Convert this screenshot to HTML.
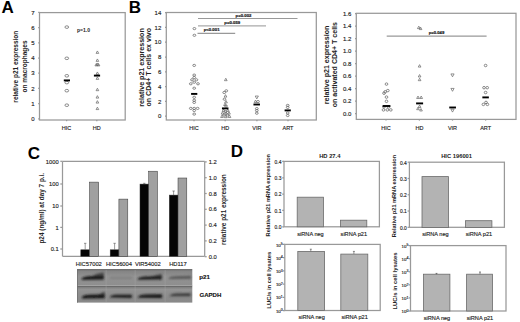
<!DOCTYPE html>
<html><head><meta charset="utf-8"><style>
html,body{margin:0;padding:0;background:#fff;}
svg{display:block;font-family:"Liberation Sans", sans-serif;}
</style></head><body>
<svg width="520" height="322" viewBox="0 0 520 322">
<rect width="520" height="322" fill="#fff"/>
<text x="1.5" y="13" font-size="17" text-anchor="start" font-weight="bold" fill="#000">A</text>
<text x="128.8" y="13" font-size="17" text-anchor="start" font-weight="bold" fill="#000">B</text>
<text x="27.8" y="159" font-size="17" text-anchor="start" font-weight="bold" fill="#000">C</text>
<text x="230.8" y="157.4" font-size="17" text-anchor="start" font-weight="bold" fill="#000">D</text>
<rect x="39.5" y="12.6" width="85.7" height="107.4" fill="none" stroke="#999" stroke-width="1.25"/>
<line x1="38.2" y1="118.8" x2="39.5" y2="118.8" stroke="#999" stroke-width="1.25"/>
<text x="34.6" y="120.89999999999999" font-size="6" text-anchor="end" font-weight="normal" fill="#222" stroke="#222" stroke-width="0.14">0</text>
<line x1="38.2" y1="103.6" x2="39.5" y2="103.6" stroke="#999" stroke-width="1.25"/>
<text x="34.6" y="105.69999999999999" font-size="6" text-anchor="end" font-weight="normal" fill="#222" stroke="#222" stroke-width="0.14">1</text>
<line x1="38.2" y1="88.4" x2="39.5" y2="88.4" stroke="#999" stroke-width="1.25"/>
<text x="34.6" y="90.5" font-size="6" text-anchor="end" font-weight="normal" fill="#222" stroke="#222" stroke-width="0.14">2</text>
<line x1="38.2" y1="73.2" x2="39.5" y2="73.2" stroke="#999" stroke-width="1.25"/>
<text x="34.6" y="75.3" font-size="6" text-anchor="end" font-weight="normal" fill="#222" stroke="#222" stroke-width="0.14">3</text>
<line x1="38.2" y1="58.0" x2="39.5" y2="58.0" stroke="#999" stroke-width="1.25"/>
<text x="34.6" y="60.1" font-size="6" text-anchor="end" font-weight="normal" fill="#222" stroke="#222" stroke-width="0.14">4</text>
<line x1="38.2" y1="42.8" x2="39.5" y2="42.8" stroke="#999" stroke-width="1.25"/>
<text x="34.6" y="44.9" font-size="6" text-anchor="end" font-weight="normal" fill="#222" stroke="#222" stroke-width="0.14">5</text>
<line x1="38.2" y1="27.60000000000001" x2="39.5" y2="27.60000000000001" stroke="#999" stroke-width="1.25"/>
<text x="34.6" y="29.70000000000001" font-size="6" text-anchor="end" font-weight="normal" fill="#222" stroke="#222" stroke-width="0.14">6</text>
<line x1="38.2" y1="12.400000000000006" x2="39.5" y2="12.400000000000006" stroke="#999" stroke-width="1.25"/>
<text x="34.6" y="14.500000000000005" font-size="6" text-anchor="end" font-weight="normal" fill="#222" stroke="#222" stroke-width="0.14">7</text>
<line x1="66.6" y1="120" x2="66.6" y2="121.2" stroke="#999" stroke-width="1.25"/>
<text x="66.6" y="130.4" font-size="5.5" text-anchor="middle" font-weight="normal" fill="#222" stroke="#222" stroke-width="0.14">HIC</text>
<line x1="96.8" y1="120" x2="96.8" y2="121.2" stroke="#999" stroke-width="1.25"/>
<text x="96.8" y="130.4" font-size="5.5" text-anchor="middle" font-weight="normal" fill="#222" stroke="#222" stroke-width="0.14">HD</text>
<text x="17.6" y="66.7" font-size="6.5" text-anchor="middle" font-weight="bold" fill="#222" transform="rotate(-90 17.6 66.7)">relative p21 expression</text>
<text x="26.8" y="66.5" font-size="6.5" text-anchor="middle" font-weight="bold" fill="#222" transform="rotate(-90 26.8 66.5)">on macrophages</text>
<text x="83.5" y="31.9" font-size="5.1" text-anchor="middle" font-weight="bold" fill="#222">p=1.0</text>
<ellipse cx="66.8" cy="27.1" rx="1.85" ry="1.3" fill="none" stroke="#666" stroke-width="0.75"/>
<ellipse cx="66.8" cy="58.3" rx="1.85" ry="1.3" fill="none" stroke="#666" stroke-width="0.75"/>
<ellipse cx="66.8" cy="75.8" rx="1.85" ry="1.3" fill="none" stroke="#666" stroke-width="0.75"/>
<ellipse cx="66.8" cy="82.6" rx="1.85" ry="1.3" fill="none" stroke="#666" stroke-width="0.75"/>
<ellipse cx="66.8" cy="90.7" rx="1.85" ry="1.3" fill="none" stroke="#666" stroke-width="0.75"/>
<ellipse cx="66.8" cy="105.2" rx="1.85" ry="1.3" fill="none" stroke="#666" stroke-width="0.75"/>
<rect x="63.800000000000004" y="79.45" width="6.2" height="1.9" fill="#000"/>
<path d="M97.4 50.949999999999996 L98.75 53.379999999999995 L96.05000000000001 53.379999999999995 Z" fill="none" stroke="#666" stroke-width="0.7"/>
<path d="M97.4 58.949999999999996 L98.75 61.379999999999995 L96.05000000000001 61.379999999999995 Z" fill="none" stroke="#666" stroke-width="0.7"/>
<path d="M97.4 62.949999999999996 L98.75 65.38 L96.05000000000001 65.38 Z" fill="none" stroke="#666" stroke-width="0.7"/>
<path d="M97.4 71.95 L98.75 74.38 L96.05000000000001 74.38 Z" fill="none" stroke="#666" stroke-width="0.7"/>
<path d="M97.4 76.95 L98.75 79.38 L96.05000000000001 79.38 Z" fill="none" stroke="#666" stroke-width="0.7"/>
<path d="M97.4 88.25 L98.75 90.67999999999999 L96.05000000000001 90.67999999999999 Z" fill="none" stroke="#666" stroke-width="0.7"/>
<path d="M97.4 95.65 L98.75 98.08 L96.05000000000001 98.08 Z" fill="none" stroke="#666" stroke-width="0.7"/>
<path d="M97.4 100.65 L98.75 103.08 L96.05000000000001 103.08 Z" fill="none" stroke="#666" stroke-width="0.7"/>
<path d="M97.4 107.15 L98.75 109.58 L96.05000000000001 109.58 Z" fill="none" stroke="#666" stroke-width="0.7"/>
<path d="M96.3 63.449999999999996 L97.64999999999999 65.88 L94.95 65.88 Z" fill="none" stroke="#666" stroke-width="0.7"/>
<path d="M98.5 63.449999999999996 L99.85 65.88 L97.15 65.88 Z" fill="none" stroke="#666" stroke-width="0.7"/>
<rect x="93.9" y="74.64999999999999" width="6.2" height="1.9" fill="#000"/>
<rect x="166.3" y="12.5" width="150.0" height="107.5" fill="none" stroke="#999" stroke-width="1.25"/>
<line x1="165" y1="116.2" x2="166.3" y2="116.2" stroke="#999" stroke-width="1.25"/>
<text x="161.3" y="118.3" font-size="6" text-anchor="end" font-weight="normal" fill="#222" stroke="#222" stroke-width="0.14">0</text>
<line x1="165" y1="101.4" x2="166.3" y2="101.4" stroke="#999" stroke-width="1.25"/>
<text x="161.3" y="103.5" font-size="6" text-anchor="end" font-weight="normal" fill="#222" stroke="#222" stroke-width="0.14">2</text>
<line x1="165" y1="86.6" x2="166.3" y2="86.6" stroke="#999" stroke-width="1.25"/>
<text x="161.3" y="88.69999999999999" font-size="6" text-anchor="end" font-weight="normal" fill="#222" stroke="#222" stroke-width="0.14">4</text>
<line x1="165" y1="71.8" x2="166.3" y2="71.8" stroke="#999" stroke-width="1.25"/>
<text x="161.3" y="73.89999999999999" font-size="6" text-anchor="end" font-weight="normal" fill="#222" stroke="#222" stroke-width="0.14">6</text>
<line x1="165" y1="57.0" x2="166.3" y2="57.0" stroke="#999" stroke-width="1.25"/>
<text x="161.3" y="59.1" font-size="6" text-anchor="end" font-weight="normal" fill="#222" stroke="#222" stroke-width="0.14">8</text>
<line x1="165" y1="42.2" x2="166.3" y2="42.2" stroke="#999" stroke-width="1.25"/>
<text x="161.3" y="44.300000000000004" font-size="6" text-anchor="end" font-weight="normal" fill="#222" stroke="#222" stroke-width="0.14">10</text>
<line x1="165" y1="27.39999999999999" x2="166.3" y2="27.39999999999999" stroke="#999" stroke-width="1.25"/>
<text x="161.3" y="29.499999999999993" font-size="6" text-anchor="end" font-weight="normal" fill="#222" stroke="#222" stroke-width="0.14">12</text>
<line x1="165" y1="12.599999999999994" x2="166.3" y2="12.599999999999994" stroke="#999" stroke-width="1.25"/>
<text x="161.3" y="14.699999999999994" font-size="6" text-anchor="end" font-weight="normal" fill="#222" stroke="#222" stroke-width="0.14">14</text>
<line x1="194" y1="120" x2="194" y2="121.2" stroke="#999" stroke-width="1.25"/>
<text x="194" y="130.4" font-size="5.5" text-anchor="middle" font-weight="normal" fill="#222" stroke="#222" stroke-width="0.14">HIC</text>
<line x1="225.2" y1="120" x2="225.2" y2="121.2" stroke="#999" stroke-width="1.25"/>
<text x="225.2" y="130.4" font-size="5.5" text-anchor="middle" font-weight="normal" fill="#222" stroke="#222" stroke-width="0.14">HD</text>
<line x1="256.9" y1="120" x2="256.9" y2="121.2" stroke="#999" stroke-width="1.25"/>
<text x="256.9" y="130.4" font-size="5.5" text-anchor="middle" font-weight="normal" fill="#222" stroke="#222" stroke-width="0.14">VIR</text>
<line x1="288" y1="120" x2="288" y2="121.2" stroke="#999" stroke-width="1.25"/>
<text x="288" y="130.4" font-size="5.5" text-anchor="middle" font-weight="normal" fill="#222" stroke="#222" stroke-width="0.14">ART</text>
<text x="144.3" y="67.5" font-size="7.1" text-anchor="middle" font-weight="bold" fill="#222" transform="rotate(-90 144.3 67.5)">relative p21 expression</text>
<text x="151.5" y="67.2" font-size="7.05" text-anchor="middle" font-weight="bold" fill="#222" transform="rotate(-90 151.5 67.2)">on CD4+ T cells ex vivo</text>
<line x1="198" y1="18.5" x2="297.5" y2="18.5" stroke="#999" stroke-width="1.2"/>
<line x1="198" y1="25.8" x2="266" y2="25.8" stroke="#aaa" stroke-width="1.2"/>
<line x1="197.5" y1="33.3" x2="235.2" y2="33.3" stroke="#999" stroke-width="1.2"/>
<text x="243.5" y="16.7" font-size="4.3" text-anchor="middle" font-weight="bold" fill="#222" stroke="#222" stroke-width="0.2">p=0.002</text>
<text x="232.3" y="24.4" font-size="4.3" text-anchor="middle" font-weight="bold" fill="#222" stroke="#222" stroke-width="0.2">p=0.059</text>
<text x="211.6" y="31.3" font-size="4.3" text-anchor="middle" font-weight="bold" fill="#222" stroke="#222" stroke-width="0.2">p&lt;0.001</text>
<ellipse cx="194.4" cy="28.6" rx="1.4" ry="1.1" fill="none" stroke="#666" stroke-width="0.75"/>
<ellipse cx="194.4" cy="35.3" rx="1.4" ry="1.1" fill="none" stroke="#666" stroke-width="0.75"/>
<ellipse cx="194.2" cy="65.4" rx="1.4" ry="1.1" fill="none" stroke="#666" stroke-width="0.75"/>
<ellipse cx="194.2" cy="75.1" rx="1.4" ry="1.1" fill="none" stroke="#666" stroke-width="0.75"/>
<ellipse cx="194.2" cy="77.5" rx="1.4" ry="1.1" fill="none" stroke="#666" stroke-width="0.75"/>
<ellipse cx="192" cy="79.8" rx="1.4" ry="1.1" fill="none" stroke="#666" stroke-width="0.75"/>
<ellipse cx="196.4" cy="79.8" rx="1.4" ry="1.1" fill="none" stroke="#666" stroke-width="0.75"/>
<ellipse cx="194.2" cy="82.2" rx="1.4" ry="1.1" fill="none" stroke="#666" stroke-width="0.75"/>
<ellipse cx="190.8" cy="83.8" rx="1.4" ry="1.1" fill="none" stroke="#666" stroke-width="0.75"/>
<ellipse cx="198" cy="83.8" rx="1.4" ry="1.1" fill="none" stroke="#666" stroke-width="0.75"/>
<ellipse cx="194.2" cy="88.2" rx="1.4" ry="1.1" fill="none" stroke="#666" stroke-width="0.75"/>
<ellipse cx="194.2" cy="97.3" rx="1.4" ry="1.1" fill="none" stroke="#666" stroke-width="0.75"/>
<ellipse cx="194.2" cy="100.3" rx="1.4" ry="1.1" fill="none" stroke="#666" stroke-width="0.75"/>
<ellipse cx="194.2" cy="102.4" rx="1.4" ry="1.1" fill="none" stroke="#666" stroke-width="0.75"/>
<ellipse cx="190.8" cy="108.4" rx="1.4" ry="1.1" fill="none" stroke="#666" stroke-width="0.75"/>
<ellipse cx="194.2" cy="108.4" rx="1.4" ry="1.1" fill="none" stroke="#666" stroke-width="0.75"/>
<ellipse cx="197.6" cy="108.4" rx="1.4" ry="1.1" fill="none" stroke="#666" stroke-width="0.75"/>
<ellipse cx="194.2" cy="110.5" rx="1.4" ry="1.1" fill="none" stroke="#666" stroke-width="0.75"/>
<ellipse cx="194.2" cy="114.1" rx="1.4" ry="1.1" fill="none" stroke="#666" stroke-width="0.75"/>
<rect x="191.1" y="92.95" width="6.2" height="1.9" fill="#000"/>
<path d="M225.8 78.25 L227.15 80.67999999999999 L224.45000000000002 80.67999999999999 Z" fill="none" stroke="#666" stroke-width="0.7"/>
<ellipse cx="226.3" cy="90.8" rx="1.4" ry="1.1" fill="none" stroke="#666" stroke-width="0.75"/>
<ellipse cx="224.2" cy="92.5" rx="1.4" ry="1.1" fill="none" stroke="#666" stroke-width="0.75"/>
<ellipse cx="224.5" cy="99.2" rx="1.4" ry="1.1" fill="none" stroke="#666" stroke-width="0.75"/>
<ellipse cx="226" cy="106" rx="1.4" ry="1.1" fill="none" stroke="#666" stroke-width="0.75"/>
<ellipse cx="225.5" cy="111.6" rx="1.4" ry="1.1" fill="none" stroke="#666" stroke-width="0.75"/>
<ellipse cx="224" cy="115" rx="1.4" ry="1.1" fill="none" stroke="#666" stroke-width="0.75"/>
<ellipse cx="227.5" cy="115" rx="1.4" ry="1.1" fill="none" stroke="#666" stroke-width="0.75"/>
<path d="M225.5 94.65 L226.85 97.08 L224.15 97.08 Z" fill="none" stroke="#666" stroke-width="0.7"/>
<path d="M226 100.45 L227.35 102.88 L224.65 102.88 Z" fill="none" stroke="#666" stroke-width="0.7"/>
<path d="M225 103.15 L226.35 105.58 L223.65 105.58 Z" fill="none" stroke="#666" stroke-width="0.7"/>
<path d="M223.5 108.95 L224.85 111.38 L222.15 111.38 Z" fill="none" stroke="#666" stroke-width="0.7"/>
<path d="M227.8 108.95 L229.15 111.38 L226.45000000000002 111.38 Z" fill="none" stroke="#666" stroke-width="0.7"/>
<path d="M222.5 111.65 L223.85 114.08 L221.15 114.08 Z" fill="none" stroke="#666" stroke-width="0.7"/>
<path d="M226 111.65 L227.35 114.08 L224.65 114.08 Z" fill="none" stroke="#666" stroke-width="0.7"/>
<path d="M229 111.65 L230.35 114.08 L227.65 114.08 Z" fill="none" stroke="#666" stroke-width="0.7"/>
<path d="M222 115.05000000000001 L223.35 117.48 L220.65 117.48 Z" fill="none" stroke="#666" stroke-width="0.7"/>
<path d="M229.5 115.05000000000001 L230.85 117.48 L228.15 117.48 Z" fill="none" stroke="#666" stroke-width="0.7"/>
<path d="M225.8 115.25 L227.15 117.67999999999999 L224.45000000000002 117.67999999999999 Z" fill="none" stroke="#666" stroke-width="0.7"/>
<rect x="221.95" y="107.45" width="6.5" height="1.9" fill="#000"/>
<path d="M256.8 98.89999999999999 L258.40000000000003 96.02 L255.20000000000002 96.02 Z" fill="none" stroke="#666" stroke-width="0.7"/>
<path d="M255.5 100.05000000000001 L256.85 102.48 L254.15 102.48 Z" fill="none" stroke="#666" stroke-width="0.7"/>
<ellipse cx="258" cy="101.6" rx="1.4" ry="1.1" fill="none" stroke="#666" stroke-width="0.75"/>
<ellipse cx="256.8" cy="108.6" rx="1.4" ry="1.1" fill="none" stroke="#666" stroke-width="0.75"/>
<ellipse cx="256.8" cy="110.6" rx="1.4" ry="1.1" fill="none" stroke="#666" stroke-width="0.75"/>
<ellipse cx="256.8" cy="113.2" rx="1.4" ry="1.1" fill="none" stroke="#666" stroke-width="0.75"/>
<rect x="253.45" y="103.55" width="6.5" height="1.9" fill="#000"/>
<ellipse cx="287.7" cy="105.4" rx="1.4" ry="1.1" fill="none" stroke="#666" stroke-width="0.75"/>
<ellipse cx="287.7" cy="107.4" rx="1.4" ry="1.1" fill="none" stroke="#666" stroke-width="0.75"/>
<ellipse cx="287.7" cy="113" rx="1.4" ry="1.1" fill="none" stroke="#666" stroke-width="0.75"/>
<ellipse cx="287.7" cy="115.5" rx="1.4" ry="1.1" fill="none" stroke="#666" stroke-width="0.75"/>
<rect x="284.59999999999997" y="109.45" width="6.2" height="1.9" fill="#000"/>
<rect x="356.3" y="13.3" width="159.7" height="106.10000000000001" fill="none" stroke="#999" stroke-width="1.25"/>
<line x1="355" y1="113.5" x2="356.3" y2="113.5" stroke="#999" stroke-width="1.25"/>
<text x="351.3" y="115.6" font-size="6" text-anchor="end" font-weight="normal" fill="#222" stroke="#222" stroke-width="0.14">0.0</text>
<line x1="355" y1="101.0" x2="356.3" y2="101.0" stroke="#999" stroke-width="1.25"/>
<text x="351.3" y="103.1" font-size="6" text-anchor="end" font-weight="normal" fill="#222" stroke="#222" stroke-width="0.14">0.2</text>
<line x1="355" y1="88.5" x2="356.3" y2="88.5" stroke="#999" stroke-width="1.25"/>
<text x="351.3" y="90.6" font-size="6" text-anchor="end" font-weight="normal" fill="#222" stroke="#222" stroke-width="0.14">0.4</text>
<line x1="355" y1="76.0" x2="356.3" y2="76.0" stroke="#999" stroke-width="1.25"/>
<text x="351.3" y="78.1" font-size="6" text-anchor="end" font-weight="normal" fill="#222" stroke="#222" stroke-width="0.14">0.6</text>
<line x1="355" y1="63.5" x2="356.3" y2="63.5" stroke="#999" stroke-width="1.25"/>
<text x="351.3" y="65.6" font-size="6" text-anchor="end" font-weight="normal" fill="#222" stroke="#222" stroke-width="0.14">0.8</text>
<line x1="355" y1="51.0" x2="356.3" y2="51.0" stroke="#999" stroke-width="1.25"/>
<text x="351.3" y="53.1" font-size="6" text-anchor="end" font-weight="normal" fill="#222" stroke="#222" stroke-width="0.14">1.0</text>
<line x1="355" y1="38.499999999999986" x2="356.3" y2="38.499999999999986" stroke="#999" stroke-width="1.25"/>
<text x="351.3" y="40.59999999999999" font-size="6" text-anchor="end" font-weight="normal" fill="#222" stroke="#222" stroke-width="0.14">1.2</text>
<line x1="355" y1="25.999999999999986" x2="356.3" y2="25.999999999999986" stroke="#999" stroke-width="1.25"/>
<text x="351.3" y="28.099999999999987" font-size="6" text-anchor="end" font-weight="normal" fill="#222" stroke="#222" stroke-width="0.14">1.4</text>
<line x1="355" y1="13.5" x2="356.3" y2="13.5" stroke="#999" stroke-width="1.25"/>
<text x="351.3" y="15.6" font-size="6" text-anchor="end" font-weight="normal" fill="#222" stroke="#222" stroke-width="0.14">1.6</text>
<line x1="386" y1="119.4" x2="386" y2="120.60000000000001" stroke="#999" stroke-width="1.25"/>
<text x="386" y="129.6" font-size="5.5" text-anchor="middle" font-weight="normal" fill="#222" stroke="#222" stroke-width="0.14">HIC</text>
<line x1="419.4" y1="119.4" x2="419.4" y2="120.60000000000001" stroke="#999" stroke-width="1.25"/>
<text x="419.4" y="129.6" font-size="5.5" text-anchor="middle" font-weight="normal" fill="#222" stroke="#222" stroke-width="0.14">HD</text>
<line x1="452.5" y1="119.4" x2="452.5" y2="120.60000000000001" stroke="#999" stroke-width="1.25"/>
<text x="452.5" y="129.6" font-size="5.5" text-anchor="middle" font-weight="normal" fill="#222" stroke="#222" stroke-width="0.14">VIR</text>
<line x1="485.6" y1="119.4" x2="485.6" y2="120.60000000000001" stroke="#999" stroke-width="1.25"/>
<text x="485.6" y="129.6" font-size="5.5" text-anchor="middle" font-weight="normal" fill="#222" stroke="#222" stroke-width="0.14">ART</text>
<text x="329.1" y="64.9" font-size="7.1" text-anchor="middle" font-weight="bold" fill="#222" transform="rotate(-90 329.1 64.9)">relative p21 expression</text>
<text x="337.5" y="64.6" font-size="7.05" text-anchor="middle" font-weight="bold" fill="#222" transform="rotate(-90 337.5 64.6)">on activated CD4+ T cells</text>
<line x1="386.7" y1="36.1" x2="486.6" y2="36.1" stroke="#999" stroke-width="1.2"/>
<text x="436.5" y="34.2" font-size="4.2" text-anchor="middle" font-weight="bold" fill="#222" stroke="#222" stroke-width="0.2">p=0.049</text>
<ellipse cx="386.5" cy="84.1" rx="1.35" ry="1.25" fill="none" stroke="#666" stroke-width="0.75"/>
<ellipse cx="387.8" cy="90.6" rx="1.35" ry="1.25" fill="none" stroke="#666" stroke-width="0.75"/>
<ellipse cx="385.2" cy="91.8" rx="1.35" ry="1.25" fill="none" stroke="#666" stroke-width="0.75"/>
<ellipse cx="384" cy="93.2" rx="1.35" ry="1.25" fill="none" stroke="#666" stroke-width="0.75"/>
<ellipse cx="386.5" cy="97.1" rx="1.35" ry="1.25" fill="none" stroke="#666" stroke-width="0.75"/>
<ellipse cx="386.5" cy="101.3" rx="1.35" ry="1.25" fill="none" stroke="#666" stroke-width="0.75"/>
<ellipse cx="384" cy="106.9" rx="1.35" ry="1.25" fill="none" stroke="#666" stroke-width="0.75"/>
<ellipse cx="388.5" cy="106.9" rx="1.35" ry="1.25" fill="none" stroke="#666" stroke-width="0.75"/>
<ellipse cx="383.5" cy="109.9" rx="1.35" ry="1.25" fill="none" stroke="#666" stroke-width="0.75"/>
<ellipse cx="387.3" cy="109.9" rx="1.35" ry="1.25" fill="none" stroke="#666" stroke-width="0.75"/>
<ellipse cx="390.8" cy="109.9" rx="1.35" ry="1.25" fill="none" stroke="#666" stroke-width="0.75"/>
<rect x="382.6" y="105.05" width="7.8" height="1.9" fill="#000"/>
<path d="M418.8 26.15 L420.15000000000003 28.58 L417.45 28.58 Z" fill="none" stroke="#666" stroke-width="0.7"/>
<path d="M420.6 27.15 L421.95000000000005 29.58 L419.25 29.58 Z" fill="none" stroke="#666" stroke-width="0.7"/>
<path d="M419.6 64.65 L420.95000000000005 67.08 L418.25 67.08 Z" fill="none" stroke="#666" stroke-width="0.7"/>
<path d="M419.6 74.55000000000001 L420.95000000000005 76.98 L418.25 76.98 Z" fill="none" stroke="#666" stroke-width="0.7"/>
<path d="M419.6 78.25 L420.95000000000005 80.67999999999999 L418.25 80.67999999999999 Z" fill="none" stroke="#666" stroke-width="0.7"/>
<path d="M418 96.05000000000001 L419.35 98.48 L416.65 98.48 Z" fill="none" stroke="#666" stroke-width="0.7"/>
<path d="M421.2 96.05000000000001 L422.55 98.48 L419.84999999999997 98.48 Z" fill="none" stroke="#666" stroke-width="0.7"/>
<path d="M419.6 105.05000000000001 L420.95000000000005 107.48 L418.25 107.48 Z" fill="none" stroke="#666" stroke-width="0.7"/>
<path d="M418 107.25 L419.35 109.67999999999999 L416.65 109.67999999999999 Z" fill="none" stroke="#666" stroke-width="0.7"/>
<path d="M421 108.55000000000001 L422.35 110.98 L419.65 110.98 Z" fill="none" stroke="#666" stroke-width="0.7"/>
<rect x="416.1" y="102.45" width="7" height="1.9" fill="#000"/>
<path d="M452.5 76.8 L454.1 73.92 L450.9 73.92 Z" fill="none" stroke="#666" stroke-width="0.7"/>
<path d="M452.5 91.3 L454.1 88.42 L450.9 88.42 Z" fill="none" stroke="#666" stroke-width="0.7"/>
<path d="M452.5 112.1 L454.1 109.22 L450.9 109.22 Z" fill="none" stroke="#666" stroke-width="0.7"/>
<rect x="449.25" y="106.55" width="6.7" height="1.9" fill="#000"/>
<ellipse cx="485.6" cy="65.5" rx="1.35" ry="1.25" fill="none" stroke="#666" stroke-width="0.75"/>
<ellipse cx="484" cy="87.7" rx="1.35" ry="1.25" fill="none" stroke="#666" stroke-width="0.75"/>
<ellipse cx="487.2" cy="87.7" rx="1.35" ry="1.25" fill="none" stroke="#666" stroke-width="0.75"/>
<ellipse cx="485.6" cy="92.5" rx="1.35" ry="1.25" fill="none" stroke="#666" stroke-width="0.75"/>
<ellipse cx="486" cy="102.4" rx="1.35" ry="1.25" fill="none" stroke="#666" stroke-width="0.75"/>
<ellipse cx="483.4" cy="104.4" rx="1.35" ry="1.25" fill="none" stroke="#666" stroke-width="0.75"/>
<ellipse cx="487.4" cy="104.4" rx="1.35" ry="1.25" fill="none" stroke="#666" stroke-width="0.75"/>
<rect x="482.35" y="96.45" width="6.5" height="1.9" fill="#000"/>
<line x1="62.5" y1="161.4" x2="204.7" y2="161.4" stroke="#999" stroke-width="1.25"/>
<line x1="62.5" y1="161.4" x2="62.5" y2="256.3" stroke="#999" stroke-width="1.25"/>
<line x1="204.7" y1="161.4" x2="204.7" y2="256.3" stroke="#999" stroke-width="1.25"/>
<line x1="62.5" y1="256.3" x2="204.7" y2="256.3" stroke="#999" stroke-width="1.25"/>
<line x1="60.3" y1="161.3" x2="62.5" y2="161.3" stroke="#999" stroke-width="1.25"/>
<text x="58.7" y="163.5" font-size="5.8" text-anchor="end" font-weight="normal" fill="#222" stroke="#222" stroke-width="0.14">1000</text>
<line x1="60.3" y1="184" x2="62.5" y2="184" stroke="#999" stroke-width="1.25"/>
<text x="58.7" y="186.2" font-size="5.8" text-anchor="end" font-weight="normal" fill="#222" stroke="#222" stroke-width="0.14">100</text>
<line x1="60.3" y1="206" x2="62.5" y2="206" stroke="#999" stroke-width="1.25"/>
<text x="58.7" y="208.2" font-size="5.8" text-anchor="end" font-weight="normal" fill="#222" stroke="#222" stroke-width="0.14">10</text>
<line x1="60.3" y1="227.4" x2="62.5" y2="227.4" stroke="#999" stroke-width="1.25"/>
<text x="58.7" y="229.6" font-size="5.8" text-anchor="end" font-weight="normal" fill="#222" stroke="#222" stroke-width="0.14">1</text>
<line x1="60.3" y1="249" x2="62.5" y2="249" stroke="#999" stroke-width="1.25"/>
<text x="58.7" y="251.2" font-size="5.8" text-anchor="end" font-weight="normal" fill="#222" stroke="#222" stroke-width="0.14">0.1</text>
<line x1="204.7" y1="161.9" x2="206.7" y2="161.9" stroke="#999" stroke-width="1.25"/>
<text x="208.7" y="164.0" font-size="5.8" text-anchor="start" font-weight="normal" fill="#222" stroke="#222" stroke-width="0.14">1.2</text>
<line x1="204.7" y1="177.70000000000002" x2="206.7" y2="177.70000000000002" stroke="#999" stroke-width="1.25"/>
<text x="208.7" y="179.8" font-size="5.8" text-anchor="start" font-weight="normal" fill="#222" stroke="#222" stroke-width="0.14">1.0</text>
<line x1="204.7" y1="193.5" x2="206.7" y2="193.5" stroke="#999" stroke-width="1.25"/>
<text x="208.7" y="195.6" font-size="5.8" text-anchor="start" font-weight="normal" fill="#222" stroke="#222" stroke-width="0.14">0.8</text>
<line x1="204.7" y1="209.3" x2="206.7" y2="209.3" stroke="#999" stroke-width="1.25"/>
<text x="208.7" y="211.4" font-size="5.8" text-anchor="start" font-weight="normal" fill="#222" stroke="#222" stroke-width="0.14">0.6</text>
<line x1="204.7" y1="225.10000000000002" x2="206.7" y2="225.10000000000002" stroke="#999" stroke-width="1.25"/>
<text x="208.7" y="227.20000000000002" font-size="5.8" text-anchor="start" font-weight="normal" fill="#222" stroke="#222" stroke-width="0.14">0.4</text>
<line x1="204.7" y1="240.9" x2="206.7" y2="240.9" stroke="#999" stroke-width="1.25"/>
<text x="208.7" y="243.0" font-size="5.8" text-anchor="start" font-weight="normal" fill="#222" stroke="#222" stroke-width="0.14">0.2</text>
<line x1="204.7" y1="256.70000000000005" x2="206.7" y2="256.70000000000005" stroke="#999" stroke-width="1.25"/>
<text x="208.7" y="258.80000000000007" font-size="5.8" text-anchor="start" font-weight="normal" fill="#222" stroke="#222" stroke-width="0.14">0.0</text>
<text x="44.4" y="208.2" font-size="6.4" text-anchor="middle" font-weight="bold" fill="#222" transform="rotate(-90 44.4 208.2)">p24 (ng/ml) at day 7 p.i.</text>
<text x="226.2" y="209.6" font-size="6.4" text-anchor="middle" font-weight="bold" fill="#222" transform="rotate(-90 226.2 209.6)">relative p21 expression</text>
<rect x="80.8" y="249.8" width="8.700000000000003" height="6.5" fill="#050505" stroke="#333" stroke-width="0.5"/>
<rect x="89.5" y="182.1" width="9.200000000000003" height="74.20000000000002" fill="#a0a0a0" stroke="#333" stroke-width="0.5"/>
<rect x="110.2" y="249.8" width="8.700000000000003" height="6.5" fill="#050505" stroke="#333" stroke-width="0.5"/>
<rect x="118.9" y="199.1" width="8.899999999999991" height="57.20000000000002" fill="#a0a0a0" stroke="#333" stroke-width="0.5"/>
<rect x="140" y="184.1" width="8.699999999999989" height="72.20000000000002" fill="#050505" stroke="#333" stroke-width="0.5"/>
<rect x="148.7" y="171.2" width="8.800000000000011" height="85.10000000000002" fill="#a0a0a0" stroke="#333" stroke-width="0.5"/>
<rect x="169.3" y="195.1" width="8.699999999999989" height="61.20000000000002" fill="#050505" stroke="#333" stroke-width="0.5"/>
<rect x="178" y="178" width="8.800000000000011" height="78.30000000000001" fill="#a0a0a0" stroke="#333" stroke-width="0.5"/>
<line x1="85.2" y1="243.3" x2="85.2" y2="249.8" stroke="#555" stroke-width="0.6"/>
<line x1="84.0" y1="243.3" x2="86.4" y2="243.3" stroke="#555" stroke-width="0.6"/>
<line x1="114.6" y1="243.3" x2="114.6" y2="249.8" stroke="#555" stroke-width="0.6"/>
<line x1="113.39999999999999" y1="243.3" x2="115.8" y2="243.3" stroke="#555" stroke-width="0.6"/>
<line x1="173.6" y1="191" x2="173.6" y2="195.1" stroke="#555" stroke-width="0.6"/>
<line x1="172.4" y1="191" x2="174.79999999999998" y2="191" stroke="#555" stroke-width="0.6"/>
<line x1="144.3" y1="183.3" x2="144.3" y2="184.1" stroke="#555" stroke-width="0.6"/>
<line x1="143.10000000000002" y1="183.3" x2="145.5" y2="183.3" stroke="#555" stroke-width="0.6"/>
<text x="88.8" y="266.3" font-size="5.8" text-anchor="middle" font-weight="normal" fill="#222" stroke="#222" stroke-width="0.14">HIC57002</text>
<text x="119" y="266.3" font-size="5.8" text-anchor="middle" font-weight="normal" fill="#222" stroke="#222" stroke-width="0.14">HIC56004</text>
<text x="147.8" y="266.3" font-size="5.8" text-anchor="middle" font-weight="normal" fill="#222" stroke="#222" stroke-width="0.14">VIR54002</text>
<text x="178" y="266.3" font-size="5.8" text-anchor="middle" font-weight="normal" fill="#222" stroke="#222" stroke-width="0.14">HD117</text>
<defs>
<linearGradient id="bu" x1="0" x2="0" y1="0" y2="1"><stop offset="0" stop-color="#6a6a6a"/><stop offset="0.15" stop-color="#858585"/><stop offset="0.45" stop-color="#929292"/><stop offset="1" stop-color="#8e8e8e"/></linearGradient>
<linearGradient id="bd" x1="0" x2="0" y1="0" y2="1"><stop offset="0" stop-color="#7c7c7c"/><stop offset="0.15" stop-color="#939393"/><stop offset="0.4" stop-color="#8e8e8e"/><stop offset="1" stop-color="#888"/></linearGradient>
<filter id="blur1" x="-20%" y="-80%" width="140%" height="260%"><feGaussianBlur stdDeviation="1.2 1.0"/></filter>
<filter id="blur2" x="-10%" y="-10%" width="120%" height="120%"><feGaussianBlur stdDeviation="0.6"/></filter>
</defs>
<rect x="77" y="269" width="115.3" height="16.5" fill="url(#bu)"/>
<rect x="77" y="285" width="115.3" height="0.9" fill="#a6a6a6"/>
<rect x="77" y="285.9" width="115.3" height="1.1" fill="#6a6a6a"/>
<rect x="77" y="287" width="115.3" height="15.6" fill="url(#bd)"/>
<g filter="url(#blur2)" opacity="0.25">
<rect x="105.5" y="270" width="1.4" height="32" fill="#a8a8a8"/>
<rect x="134.5" y="270" width="1.4" height="32" fill="#a8a8a8"/>
<rect x="164.5" y="270" width="1.4" height="32" fill="#a8a8a8"/>
</g>
<rect x="77" y="269" width="0.8" height="33.6" fill="#707070"/>
<g filter="url(#blur1)">
<path d="M90 277 Q96 273.5 103.5 272.2 L104 277.5 Z" fill="#454545"/>
<path d="M81.5 278.6 Q83 276.6 90 276.3 L103.8 275.8 L103.8 279.6 L82 279.8 Z" fill="#151515"/>
<path d="M150 277 Q156 274.5 161.8 273.8 L162 277.5 Z" fill="#4a4a4a"/>
<path d="M137.5 278.9 Q139 276.6 146 276.5 L161.8 276.1 L161.8 279.5 L138 279.7 Z" fill="#1c1c1c"/>
<path d="M168.5 278.4 Q170 276.3 176 276.2 L191 275.7 L191 278.7 L169 278.9 Z" fill="#565656"/>
<rect x="110" y="276.8" width="22" height="2.2" fill="#808080"/>
<path d="M96 296 Q101 293.5 104.6 291.5 L104.8 296.5 Z" fill="#404040"/>
<path d="M81.8 297.4 Q83 295 90 294.8 L104.6 294.4 L104.6 298.2 L82.2 298.4 Z" fill="#121212"/>
<path d="M109.8 297.6 Q110.5 295 116 294.8 L131.6 294.7 Q132.6 296.2 131.6 297.9 Z" fill="#1c1c1c"/>
<path d="M137.8 297.7 Q139 294.6 146 294.6 L161.8 294.3 Q162.8 296 161.8 297.9 Z" fill="#181818"/>
<path d="M169.5 296.2 Q171 293.6 176 293.5 L190.3 293.3 Q191 294.8 190.3 296.3 Z" fill="#3a3a3a"/>
</g>
<text x="199.3" y="279.2" font-size="5.6" font-weight="bold" fill="#111" stroke="#111" stroke-width="0.12" textLength="10.6" lengthAdjust="spacingAndGlyphs">p21</text>
<text x="199.4" y="297.3" font-size="6.1" text-anchor="start" font-weight="bold" fill="#111" stroke="#111" stroke-width="0.12">GAPDH</text>
<rect x="284.0" y="161.4" width="95.39999999999998" height="65.4" fill="none" stroke="#999" stroke-width="1.25"/>
<line x1="282.2" y1="226.8" x2="284.0" y2="226.8" stroke="#999" stroke-width="1.25"/>
<text x="281.4" y="229.15" font-size="4.9" text-anchor="end" font-weight="normal" fill="#222" stroke="#222" stroke-width="0.14">0.0</text>
<line x1="282.2" y1="210.45000000000002" x2="284.0" y2="210.45000000000002" stroke="#999" stroke-width="1.25"/>
<text x="281.4" y="212.8" font-size="4.9" text-anchor="end" font-weight="normal" fill="#222" stroke="#222" stroke-width="0.14">0.1</text>
<line x1="282.2" y1="194.10000000000002" x2="284.0" y2="194.10000000000002" stroke="#999" stroke-width="1.25"/>
<text x="281.4" y="196.45000000000002" font-size="4.9" text-anchor="end" font-weight="normal" fill="#222" stroke="#222" stroke-width="0.14">0.2</text>
<line x1="282.2" y1="177.75" x2="284.0" y2="177.75" stroke="#999" stroke-width="1.25"/>
<text x="281.4" y="180.1" font-size="4.9" text-anchor="end" font-weight="normal" fill="#222" stroke="#222" stroke-width="0.14">0.3</text>
<line x1="282.2" y1="161.4" x2="284.0" y2="161.4" stroke="#999" stroke-width="1.25"/>
<text x="281.4" y="163.75" font-size="4.9" text-anchor="end" font-weight="normal" fill="#222" stroke="#222" stroke-width="0.14">0.4</text>
<text x="329.8" y="157.9" font-size="5.8" text-anchor="middle" font-weight="bold" fill="#222">HD 27.4</text>
<rect x="297.2" y="197.2" width="26.19999999999999" height="29.600000000000023" fill="#b3b3b3" stroke="#6a6a6a" stroke-width="0.8"/>
<rect x="340.5" y="220.2" width="26.30000000000001" height="6.600000000000023" fill="#b3b3b3" stroke="#6a6a6a" stroke-width="0.8"/>
<text x="310.5" y="235.8" font-size="5.6" text-anchor="middle" font-weight="normal" fill="#222" stroke="#222" stroke-width="0.14">siRNA neg</text>
<text x="353.8" y="235.8" font-size="5.6" text-anchor="middle" font-weight="normal" fill="#222" stroke="#222" stroke-width="0.14">siRNA p21</text>
<rect x="409.4" y="162.2" width="95.0" height="65.10000000000002" fill="none" stroke="#999" stroke-width="1.25"/>
<line x1="407.59999999999997" y1="227.3" x2="409.4" y2="227.3" stroke="#999" stroke-width="1.25"/>
<text x="406.79999999999995" y="229.65" font-size="4.9" text-anchor="end" font-weight="normal" fill="#222" stroke="#222" stroke-width="0.14">0.0</text>
<line x1="407.59999999999997" y1="211.025" x2="409.4" y2="211.025" stroke="#999" stroke-width="1.25"/>
<text x="406.79999999999995" y="213.375" font-size="4.9" text-anchor="end" font-weight="normal" fill="#222" stroke="#222" stroke-width="0.14">0.1</text>
<line x1="407.59999999999997" y1="194.75" x2="409.4" y2="194.75" stroke="#999" stroke-width="1.25"/>
<text x="406.79999999999995" y="197.1" font-size="4.9" text-anchor="end" font-weight="normal" fill="#222" stroke="#222" stroke-width="0.14">0.2</text>
<line x1="407.59999999999997" y1="178.475" x2="409.4" y2="178.475" stroke="#999" stroke-width="1.25"/>
<text x="406.79999999999995" y="180.825" font-size="4.9" text-anchor="end" font-weight="normal" fill="#222" stroke="#222" stroke-width="0.14">0.3</text>
<line x1="407.59999999999997" y1="162.2" x2="409.4" y2="162.2" stroke="#999" stroke-width="1.25"/>
<text x="406.79999999999995" y="164.54999999999998" font-size="4.9" text-anchor="end" font-weight="normal" fill="#222" stroke="#222" stroke-width="0.14">0.4</text>
<text x="456.6" y="157.9" font-size="5.8" text-anchor="middle" font-weight="bold" fill="#222">HIC 196001</text>
<rect x="422" y="176.6" width="26.399999999999977" height="51.0" fill="#b3b3b3" stroke="#6a6a6a" stroke-width="0.8"/>
<rect x="465.5" y="220.7" width="26.399999999999977" height="6.900000000000006" fill="#b3b3b3" stroke="#6a6a6a" stroke-width="0.8"/>
<text x="435.4" y="236.1" font-size="5.6" text-anchor="middle" font-weight="normal" fill="#222" stroke="#222" stroke-width="0.14">siRNA neg</text>
<text x="478.9" y="236.1" font-size="5.6" text-anchor="middle" font-weight="normal" fill="#222" stroke="#222" stroke-width="0.14">siRNA p21</text>
<text x="270.3" y="195.2" font-size="5.62" text-anchor="middle" font-weight="bold" fill="#222" transform="rotate(-90 270.3 195.2)">Relative p21 mRNA expression</text>
<text x="395.6" y="196" font-size="5.62" text-anchor="middle" font-weight="bold" fill="#222" transform="rotate(-90 395.6 196)">Relative p21 mRNA expression</text>
<rect x="284.8" y="244.4" width="95.39999999999998" height="66.1" fill="none" stroke="#999" stroke-width="1.25"/>
<line x1="283.0" y1="310.5" x2="284.8" y2="310.5" stroke="#999" stroke-width="1.25"/>
<text x="282.8" y="312.6" font-size="4.4" text-anchor="end" fill="#222" stroke="#222" stroke-width="0.15">10<tspan dy="-1.4" font-size="3.6">0</tspan></text>
<line x1="283.0" y1="297.28" x2="284.8" y2="297.28" stroke="#999" stroke-width="1.25"/>
<text x="282.8" y="299.38" font-size="4.4" text-anchor="end" fill="#222" stroke="#222" stroke-width="0.15">10<tspan dy="-1.4" font-size="3.6">1</tspan></text>
<line x1="283.0" y1="284.06" x2="284.8" y2="284.06" stroke="#999" stroke-width="1.25"/>
<text x="282.8" y="286.16" font-size="4.4" text-anchor="end" fill="#222" stroke="#222" stroke-width="0.15">10<tspan dy="-1.4" font-size="3.6">2</tspan></text>
<line x1="283.0" y1="270.84000000000003" x2="284.8" y2="270.84000000000003" stroke="#999" stroke-width="1.25"/>
<text x="282.8" y="272.94000000000005" font-size="4.4" text-anchor="end" fill="#222" stroke="#222" stroke-width="0.15">10<tspan dy="-1.4" font-size="3.6">3</tspan></text>
<line x1="283.0" y1="257.62" x2="284.8" y2="257.62" stroke="#999" stroke-width="1.25"/>
<text x="282.8" y="259.72" font-size="4.4" text-anchor="end" fill="#222" stroke="#222" stroke-width="0.15">10<tspan dy="-1.4" font-size="3.6">4</tspan></text>
<line x1="283.0" y1="244.4" x2="284.8" y2="244.4" stroke="#999" stroke-width="1.25"/>
<text x="282.8" y="246.5" font-size="4.4" text-anchor="end" fill="#222" stroke="#222" stroke-width="0.15">10<tspan dy="-1.4" font-size="3.6">5</tspan></text>
<rect x="297.8" y="251.4" width="26.80000000000001" height="59.099999999999994" fill="#b3b3b3" stroke="#6a6a6a" stroke-width="0.8"/>
<rect x="340.8" y="254.1" width="27.0" height="56.400000000000006" fill="#b3b3b3" stroke="#6a6a6a" stroke-width="0.8"/>
<line x1="310.8" y1="249.2" x2="310.8" y2="251.2" stroke="#444" stroke-width="0.6"/>
<line x1="309.8" y1="249.2" x2="311.8" y2="249.2" stroke="#444" stroke-width="0.6"/>
<line x1="353.9" y1="251.4" x2="353.9" y2="253.9" stroke="#444" stroke-width="0.6"/>
<line x1="352.9" y1="251.4" x2="354.9" y2="251.4" stroke="#444" stroke-width="0.6"/>
<text x="311.6" y="319.2" font-size="5.6" text-anchor="middle" font-weight="normal" fill="#222" stroke="#222" stroke-width="0.14">siRNA neg</text>
<text x="354.6" y="319.2" font-size="5.6" text-anchor="middle" font-weight="normal" fill="#222" stroke="#222" stroke-width="0.14">siRNA p21</text>
<rect x="410.5" y="245.6" width="95.5" height="65.4" fill="none" stroke="#999" stroke-width="1.25"/>
<line x1="408.7" y1="311.0" x2="410.5" y2="311.0" stroke="#999" stroke-width="1.25"/>
<text x="408.5" y="313.1" font-size="4.4" text-anchor="end" fill="#222" stroke="#222" stroke-width="0.15">10<tspan dy="-1.4" font-size="3.6">0</tspan></text>
<line x1="408.7" y1="297.92" x2="410.5" y2="297.92" stroke="#999" stroke-width="1.25"/>
<text x="408.5" y="300.02000000000004" font-size="4.4" text-anchor="end" fill="#222" stroke="#222" stroke-width="0.15">10<tspan dy="-1.4" font-size="3.6">1</tspan></text>
<line x1="408.7" y1="284.84" x2="410.5" y2="284.84" stroke="#999" stroke-width="1.25"/>
<text x="408.5" y="286.94" font-size="4.4" text-anchor="end" fill="#222" stroke="#222" stroke-width="0.15">10<tspan dy="-1.4" font-size="3.6">2</tspan></text>
<line x1="408.7" y1="271.76" x2="410.5" y2="271.76" stroke="#999" stroke-width="1.25"/>
<text x="408.5" y="273.86" font-size="4.4" text-anchor="end" fill="#222" stroke="#222" stroke-width="0.15">10<tspan dy="-1.4" font-size="3.6">3</tspan></text>
<line x1="408.7" y1="258.68" x2="410.5" y2="258.68" stroke="#999" stroke-width="1.25"/>
<text x="408.5" y="260.78000000000003" font-size="4.4" text-anchor="end" fill="#222" stroke="#222" stroke-width="0.15">10<tspan dy="-1.4" font-size="3.6">4</tspan></text>
<line x1="408.7" y1="245.6" x2="410.5" y2="245.6" stroke="#999" stroke-width="1.25"/>
<text x="408.5" y="247.7" font-size="4.4" text-anchor="end" fill="#222" stroke="#222" stroke-width="0.15">10<tspan dy="-1.4" font-size="3.6">5</tspan></text>
<rect x="423.5" y="274.2" width="26.399999999999977" height="36.80000000000001" fill="#b3b3b3" stroke="#6a6a6a" stroke-width="0.8"/>
<rect x="466.6" y="274.2" width="25.899999999999977" height="36.80000000000001" fill="#b3b3b3" stroke="#6a6a6a" stroke-width="0.8"/>
<line x1="436.5" y1="273.4" x2="436.5" y2="274.2" stroke="#444" stroke-width="0.6"/>
<line x1="435.5" y1="273.4" x2="437.5" y2="273.4" stroke="#444" stroke-width="0.6"/>
<line x1="480" y1="272" x2="480" y2="274.2" stroke="#444" stroke-width="0.6"/>
<line x1="479" y1="272" x2="481" y2="272" stroke="#444" stroke-width="0.6"/>
<text x="437" y="319.5" font-size="5.6" text-anchor="middle" font-weight="normal" fill="#222" stroke="#222" stroke-width="0.14">siRNA neg</text>
<text x="480" y="319.5" font-size="5.6" text-anchor="middle" font-weight="normal" fill="#222" stroke="#222" stroke-width="0.14">siRNA p21</text>
<text x="271.3" y="280.2" font-size="5.9" text-anchor="middle" font-weight="bold" fill="#222" transform="rotate(-90 271.3 280.2)">LUC/s in cell lysates</text>
<text x="396.8" y="281" font-size="5.9" text-anchor="middle" font-weight="bold" fill="#222" transform="rotate(-90 396.8 281)">LUC/s in cell lysates</text>
</svg>
</body></html>
